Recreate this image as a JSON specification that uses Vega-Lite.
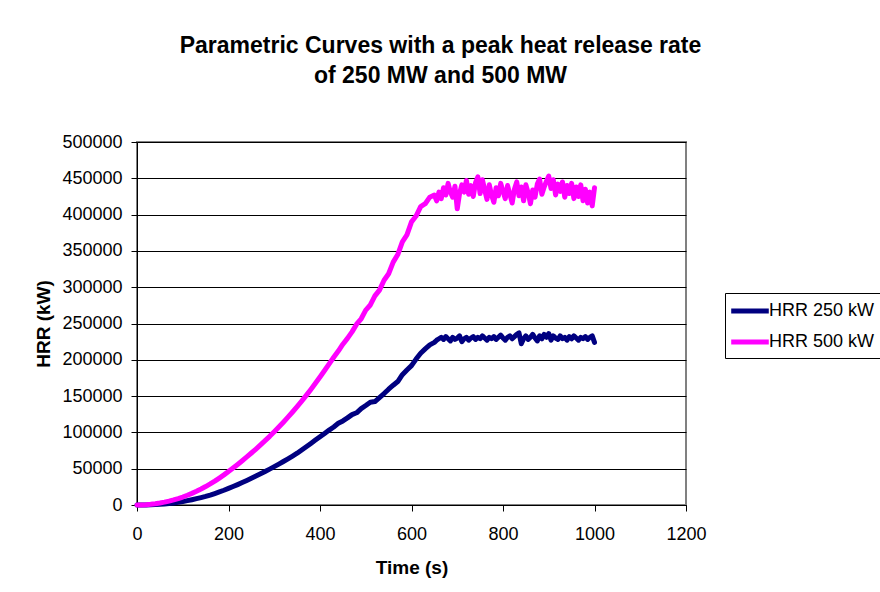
{
  "$schema": "https://vega.github.io/schema/vega-lite/v6.json",
  "width": 549,
  "height": 363,
  "autosize": {"type": "none"},
  "padding": {"left": 137, "top": 142, "right": 194, "bottom": 87},
  "background": "white",
  "title": {
    "text": ["Parametric Curves with a peak heat release rate", "of 250 MW and 500 MW"],
    "font": "Liberation Sans",
    "fontSize": 23,
    "fontWeight": "bold",
    "color": "black",
    "anchor": "middle",
    "frame": "group",
    "dx": 29,
    "offset": 45,
    "lineHeight": 30
  },
  "datasets": {
    "hrr250": [
      {"t":0,"v":0},{"t":10,"v":0},{"t":20,"v":100},{"t":30,"v":300},{"t":40,"v":600},{"t":50,"v":1000},{"t":60,"v":1500},{"t":70,"v":2100},{"t":80,"v":2800},{"t":90,"v":3600},
      {"t":100,"v":4800},{"t":110,"v":6000},{"t":120,"v":7300},{"t":130,"v":8700},{"t":140,"v":10200},{"t":150,"v":11800},{"t":160,"v":13700},{"t":170,"v":15800},{"t":180,"v":18000},{"t":190,"v":20300},
      {"t":200,"v":22800},{"t":210,"v":25400},{"t":220,"v":28100},{"t":230,"v":30900},{"t":240,"v":33800},{"t":250,"v":36800},{"t":260,"v":39800},{"t":270,"v":42900},{"t":280,"v":46100},{"t":290,"v":49400},
      {"t":300,"v":52800},{"t":310,"v":56300},{"t":320,"v":59900},{"t":330,"v":63600},{"t":340,"v":67400},{"t":350,"v":71300},{"t":360,"v":75800},{"t":370,"v":80200},{"t":380,"v":84800},{"t":390,"v":89400},
      {"t":400,"v":94000},{"t":410,"v":98600},{"t":420,"v":103200},{"t":430,"v":107500},{"t":440,"v":112500},{"t":450,"v":115800},{"t":460,"v":120000},{"t":470,"v":124500},{"t":480,"v":127000},{"t":490,"v":132800},
      {"t":500,"v":137000},{"t":510,"v":141500},{"t":520,"v":142500},{"t":530,"v":148000},{"t":540,"v":153500},{"t":550,"v":159500},{"t":560,"v":165000},{"t":570,"v":170000},{"t":580,"v":179500},{"t":590,"v":186000},
      {"t":600,"v":192000},{"t":610,"v":201000},{"t":620,"v":209000},{"t":630,"v":215000},{"t":640,"v":220500},
      {"t":650,"v":224000},{"t":655,"v":227000},{"t":660,"v":229000},{"t":665,"v":231000},{"t":670,"v":228000},{"t":675,"v":232000},{"t":680,"v":229000},{"t":685,"v":226000},{"t":690,"v":231000},{"t":695,"v":228000},
      {"t":700,"v":230000},{"t":705,"v":233000},{"t":710,"v":225000},{"t":715,"v":229000},{"t":720,"v":231000},{"t":725,"v":227000},{"t":730,"v":230000},{"t":735,"v":232000},{"t":740,"v":228000},{"t":745,"v":231000},
      {"t":750,"v":229000},{"t":755,"v":233000},{"t":760,"v":230000},{"t":765,"v":227000},{"t":770,"v":231000},{"t":775,"v":229000},{"t":780,"v":232000},{"t":785,"v":228000},{"t":790,"v":231000},{"t":795,"v":234000},
      {"t":800,"v":230000},{"t":805,"v":227000},{"t":810,"v":231000},{"t":815,"v":233000},{"t":820,"v":229000},{"t":825,"v":232000},{"t":830,"v":235000},{"t":835,"v":237000},{"t":840,"v":222000},{"t":845,"v":229000},
      {"t":850,"v":233000},{"t":855,"v":228000},{"t":860,"v":231000},{"t":865,"v":235000},{"t":870,"v":230000},{"t":875,"v":226000},{"t":880,"v":233000},{"t":885,"v":229000},{"t":890,"v":235000},{"t":895,"v":231000},
      {"t":900,"v":236000},{"t":905,"v":227000},{"t":910,"v":233000},{"t":915,"v":230000},{"t":920,"v":228000},{"t":925,"v":233000},{"t":930,"v":229000},{"t":935,"v":231000},{"t":940,"v":227000},{"t":945,"v":232000},
      {"t":950,"v":229000},{"t":955,"v":233000},{"t":960,"v":230000},{"t":965,"v":227000},{"t":970,"v":231000},{"t":975,"v":229000},{"t":980,"v":232000},{"t":985,"v":228000},{"t":990,"v":231000},{"t":995,"v":233000},
      {"t":1000,"v":224000}
    ],
    "hrr500": [
      {"t":0,"v":0},{"t":10,"v":100},{"t":20,"v":400},{"t":30,"v":900},{"t":40,"v":1700},{"t":50,"v":2700},{"t":60,"v":3900},{"t":70,"v":5300},{"t":80,"v":7000},{"t":90,"v":8900},
      {"t":100,"v":11000},{"t":110,"v":13400},{"t":120,"v":16000},{"t":130,"v":18900},{"t":140,"v":22000},{"t":150,"v":25400},{"t":160,"v":29000},{"t":170,"v":32900},{"t":180,"v":37100},{"t":190,"v":41500},
      {"t":200,"v":46200},{"t":210,"v":51000},{"t":220,"v":55900},{"t":230,"v":61000},{"t":240,"v":66200},{"t":250,"v":71600},{"t":260,"v":77100},{"t":270,"v":82800},{"t":280,"v":88600},{"t":290,"v":94600},
      {"t":300,"v":100900},{"t":310,"v":107400},{"t":320,"v":114100},{"t":330,"v":121000},{"t":340,"v":128100},{"t":350,"v":135500},{"t":360,"v":143100},{"t":370,"v":151000},{"t":380,"v":159200},{"t":390,"v":167700},
      {"t":400,"v":176400},{"t":410,"v":185300},{"t":420,"v":194400},{"t":430,"v":203500},{"t":440,"v":212000},{"t":450,"v":221500},{"t":460,"v":229500},{"t":470,"v":238500},{"t":480,"v":249000},{"t":490,"v":256500},
      {"t":500,"v":268500},{"t":510,"v":275500},{"t":520,"v":288000},{"t":530,"v":296000},{"t":540,"v":309500},{"t":550,"v":318500},{"t":560,"v":334500},{"t":570,"v":345000},{"t":580,"v":362500},{"t":590,"v":372000},
      {"t":600,"v":390000},{"t":610,"v":398000},{"t":620,"v":411000},{"t":630,"v":415000},{"t":640,"v":424000},
      {"t":650,"v":427000},{"t":655,"v":419000},{"t":660,"v":431000},{"t":665,"v":422000},{"t":670,"v":437000},{"t":675,"v":427000},{"t":680,"v":443000},{"t":685,"v":431000},{"t":690,"v":424000},{"t":695,"v":439000},
      {"t":700,"v":408000},{"t":705,"v":429000},{"t":710,"v":441000},{"t":715,"v":431000},{"t":720,"v":447000},{"t":725,"v":428000},{"t":730,"v":440000},{"t":735,"v":425000},{"t":740,"v":444000},{"t":745,"v":452000},
      {"t":750,"v":429000},{"t":755,"v":448000},{"t":760,"v":434000},{"t":765,"v":421000},{"t":770,"v":441000},{"t":775,"v":427000},{"t":780,"v":417000},{"t":785,"v":437000},{"t":790,"v":426000},{"t":795,"v":443000},
      {"t":800,"v":432000},{"t":805,"v":422000},{"t":810,"v":440000},{"t":815,"v":428000},{"t":820,"v":416000},{"t":825,"v":435000},{"t":830,"v":445000},{"t":835,"v":426000},{"t":840,"v":438000},{"t":845,"v":419000},
      {"t":850,"v":441000},{"t":855,"v":430000},{"t":860,"v":415000},{"t":865,"v":434000},{"t":870,"v":424000},{"t":875,"v":442000},{"t":880,"v":449000},{"t":885,"v":428000},{"t":890,"v":438000},{"t":895,"v":446000},
      {"t":900,"v":453000},{"t":905,"v":436000},{"t":910,"v":448000},{"t":915,"v":427000},{"t":920,"v":442000},{"t":925,"v":432000},{"t":930,"v":445000},{"t":935,"v":424000},{"t":940,"v":440000},{"t":945,"v":429000},
      {"t":950,"v":443000},{"t":955,"v":422000},{"t":960,"v":438000},{"t":965,"v":425000},{"t":970,"v":441000},{"t":975,"v":419000},{"t":980,"v":435000},{"t":985,"v":416000},{"t":990,"v":431000},{"t":995,"v":412000},
      {"t":1000,"v":437000}
    ]
  },
  "encoding": {
    "x": {
      "field": "t",
      "type": "quantitative",
      "scale": {"domain": [0, 1200], "nice": false},
      "axis": {
        "title": "Time (s)",
        "values": [0, 200, 400, 600, 800, 1000, 1200],
        "format": "d",
        "labelFlush": false,
        "grid": false,
        "labelPadding": 14,
        "titleY": 68,
        "titleBaseline": "alphabetic"
      }
    },
    "y": {
      "field": "v",
      "type": "quantitative",
      "scale": {"domain": [0, 500000], "nice": false},
      "axis": {
        "title": "HRR (kW)",
        "values": [0, 50000, 100000, 150000, 200000, 250000, 300000, 350000, 400000, 450000, 500000],
        "format": "d",
        "labelFlush": false,
        "grid": true,
        "gridColor": "black",
        "gridWidth": 1,
        "labelPadding": 9,
        "titleX": -88,
        "titleY": 181.5,
        "titleAngle": 270,
        "titleBaseline": "alphabetic",
        "titleAnchor": "middle"
      }
    }
  },
  "layer": [
    {
      "data": {"name": "hrr250"},
      "mark": {"type": "line", "strokeWidth": 5, "strokeCap": "round", "strokeJoin": "round"},
      "encoding": {
        "color": {
          "datum": "HRR 250 kW",
          "type": "nominal",
          "scale": {"domain": ["HRR 250 kW", "HRR 500 kW"], "range": ["#000080", "#FF00FF"]},
          "legend": {
            "title": null,
            "orient": "none",
            "legendX": 588,
            "legendY": 151,
            "symbolType": "M-2,0H2",
            "symbolSize": 353,
            "symbolStrokeWidth": 5,
            "symbolOffset": 7,
            "labelFont": "Liberation Sans",
            "labelFontSize": 18,
            "labelColor": "black",
            "labelOffset": 7,
            "strokeColor": "black",
            "padding": 6,
            "rowPadding": 9
          }
        }
      }
    },
    {
      "data": {"name": "hrr500"},
      "mark": {"type": "line", "strokeWidth": 5, "strokeCap": "round", "strokeJoin": "round"},
      "encoding": {
        "color": {"datum": "HRR 500 kW", "type": "nominal"}
      }
    }
  ],
  "config": {
    "view": {"stroke": "#808080", "strokeWidth": 2},
    "axis": {
      "domainColor": "black",
      "domainWidth": 1,
      "tickColor": "black",
      "tickWidth": 1,
      "tickSize": 6,
      "labelFont": "Liberation Sans",
      "labelFontSize": 18,
      "labelColor": "black",
      "titleFont": "Liberation Sans",
      "titleFontSize": 19,
      "titleFontWeight": "bold",
      "titleColor": "black"
    }
  }
}
